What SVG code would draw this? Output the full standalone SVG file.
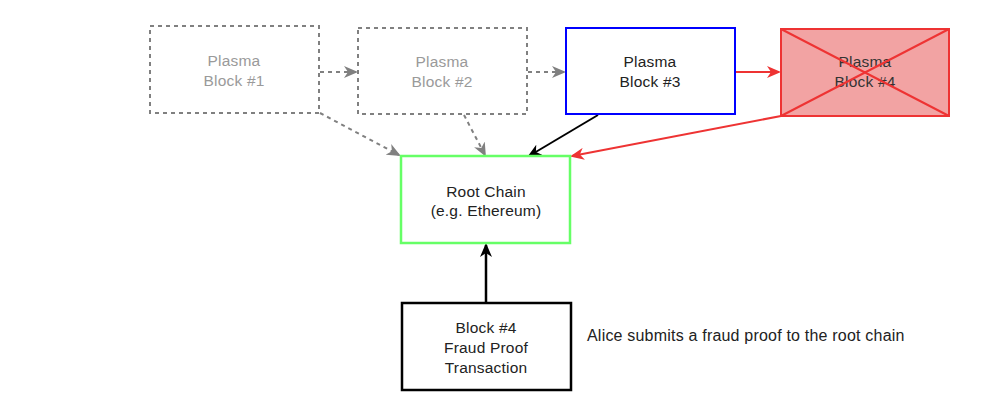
<svg xmlns="http://www.w3.org/2000/svg" width="1000" height="409" viewBox="0 0 1000 409">
<style>
text{font-family:"Liberation Sans",Arial,sans-serif;font-size:15.5px;text-anchor:middle;letter-spacing:0.2px}
.ghost rect{fill:#fff;stroke:#808080;stroke-width:2;stroke-dasharray:4 4}
.ghost text{fill:#9a9a9a}
.dim{fill:none;stroke:#808080;stroke-width:2;stroke-dasharray:4 4}
.blk{fill:none;stroke:#000;stroke-width:2}
.red{fill:none;stroke:#ee3333;stroke-width:2}
</style>
<defs>
<marker id="ag" markerWidth="14" markerHeight="12" refX="12" refY="6" orient="auto" markerUnits="userSpaceOnUse"><path d="M0,0 L14,6 L0,12 L4,6 z" fill="#808080"/></marker>
<marker id="ak" markerWidth="14" markerHeight="12" refX="12" refY="6" orient="auto" markerUnits="userSpaceOnUse"><path d="M0,0 L14,6 L0,12 L4,6 z" fill="#000"/></marker>
<marker id="ar" markerWidth="14" markerHeight="12" refX="12" refY="6" orient="auto" markerUnits="userSpaceOnUse"><path d="M0,0 L14,6 L0,12 L4,6 z" fill="#ee3333"/></marker>
</defs>
<rect width="1000" height="409" fill="#fff"/>
<g id="connectors">
<line class="dim" x1="320" y1="72" x2="356" y2="72" marker-end="url(#ag)"/>
<line class="dim" x1="528" y1="72" x2="564" y2="72" marker-end="url(#ag)"/>
<line class="dim" x1="320" y1="113" x2="399" y2="155" marker-end="url(#ag)"/>
<line class="dim" x1="464" y1="115" x2="485" y2="155" marker-end="url(#ag)"/>
<line class="blk" x1="598" y1="115" x2="529" y2="156" marker-end="url(#ak)"/>
<line class="red" x1="736" y1="72" x2="779" y2="72" marker-end="url(#ar)"/>
<line class="red" x1="781" y1="116" x2="572" y2="156" marker-end="url(#ar)"/>
<line x1="486" y1="302" x2="486" y2="245" stroke="#000" stroke-width="2.5" marker-end="url(#ak)"/>
</g>
<g id="block1" class="ghost">
<rect x="150" y="26" width="169" height="87"/>
<text x="234" y="66">Plasma</text><text x="234" y="86">Block #1</text>
</g>
<g id="block2" class="ghost">
<rect x="358" y="28" width="169" height="86"/>
<text x="442" y="67">Plasma</text><text x="442" y="87">Block #2</text>
</g>
<g id="block3">
<rect x="566" y="28" width="169" height="86" fill="#fff" stroke="#0000ff" stroke-width="2"/>
<text x="650" y="67" fill="#222">Plasma</text><text x="650" y="87" fill="#222">Block #3</text>
</g>
<g id="block4">
<rect x="781" y="29" width="168" height="87" fill="#f2a3a3" stroke="#ee3333" stroke-width="2"/>
<text x="865" y="67" fill="#333">Plasma</text><text x="865" y="87" fill="#333">Block #4</text>
<path d="M781,29 L949,116 M949,29 L781,116" stroke="#ee3333" stroke-width="2"/>
</g>
<g id="rootchain">
<rect x="401" y="156" width="169" height="87" fill="#fff" stroke="#66ff66" stroke-width="2.5"/>
<text x="486" y="197" fill="#222">Root Chain</text><text x="486" y="216" fill="#222">(e.g. Ethereum)</text>
</g>
<g id="fraudproof">
<rect x="402" y="303" width="169" height="87" fill="#fff" stroke="#000" stroke-width="2.5"/>
<text x="486" y="333" fill="#222">Block #4</text><text x="486" y="353" fill="#222">Fraud Proof</text><text x="486" y="373" fill="#222">Transaction</text>
</g>
<text x="587" y="341" style="text-anchor:start;font-size:16px" fill="#222">Alice submits a fraud proof to the root chain</text>
</svg>
